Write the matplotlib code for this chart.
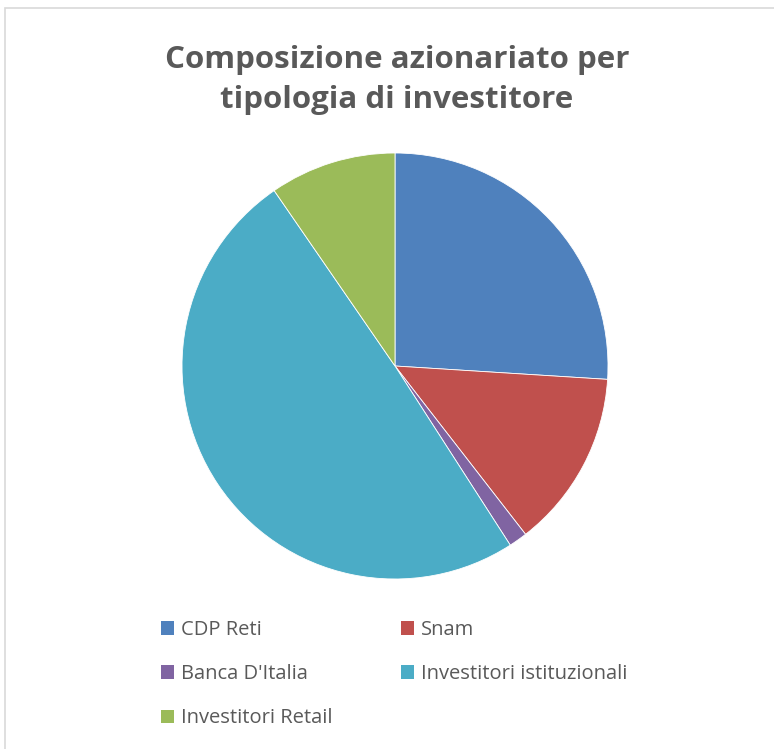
import matplotlib.pyplot as plt
from matplotlib.patches import Rectangle

labels = ["CDP Reti", "Snam", "Banca D'Italia", "Investitori istituzionali", "Investitori Retail"]
shares = [26.0, 13.5, 1.4, 49.5, 9.6]
colors = ["#4F81BD", "#C0504D", "#8064A2", "#4BACC6", "#9BBB59"]

plt.rcParams['font.family'] = ['Open Sans', 'DejaVu Sans']

W, H = 774, 749
fig = plt.figure(figsize=(W / 100, H / 100), dpi=100)

# chart border (Excel-style frame)
fig.patches.append(Rectangle((5 / W, -0.01), 1.0, 1 - 8 / H + 0.01, transform=fig.transFigure,
                             fill=False, edgecolor="#D9D9D9", linewidth=1.2))

fig.text(397 / W, 1 - 80 / H, "Composizione azionariato per\ntipologia di investitore",
         ha="center", va="center", fontsize=22.5, fontweight="bold", color="#595959",
         linespacing=1.42)

r = 213
cx, cy = 395, 366
ax = fig.add_axes([(cx - r) / W, 1 - (cy + r) / H, 2 * r / W, 2 * r / H])
ax.pie(shares, colors=colors, startangle=90, counterclock=False,
       wedgeprops=dict(edgecolor="white", linewidth=0.6))
ax.set_aspect("equal")
ax.set_xlim(-1, 1)
ax.set_ylim(-1, 1)
ax.axis("off")

# legend fills row by row in the reference, matplotlib fills columns
order = [0, 2, 4, 1, 3]
handles = [Rectangle((0, 0), 1, 1, facecolor=colors[i]) for i in order]
leg = fig.legend(handles, [labels[i] for i in order], ncol=2, loc="upper left",
                 bbox_to_anchor=(143 / W, 1 - 602 / H), frameon=False,
                 fontsize=14.5, labelcolor="#595959", handlelength=0.65, handleheight=0.65,
                 handletextpad=0.35, columnspacing=3.4, labelspacing=1.2)

fig.savefig("out.png", dpi=100)
